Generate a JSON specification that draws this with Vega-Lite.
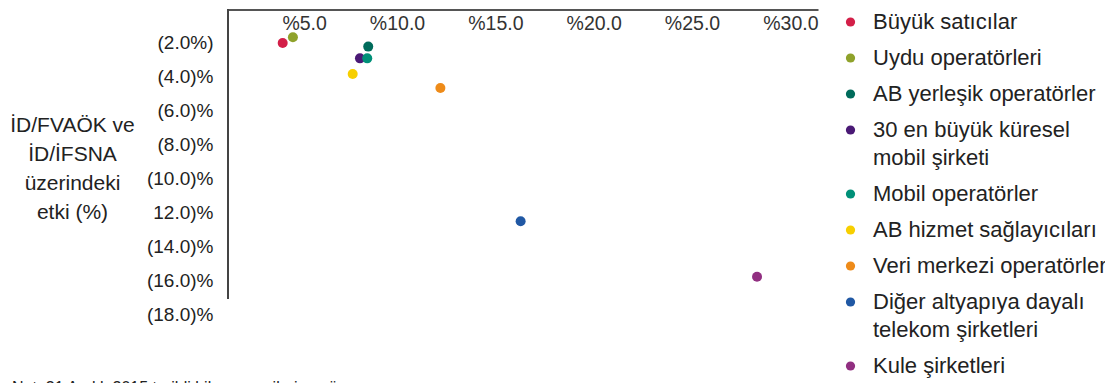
{
  "$schema": "https://vega.github.io/schema/vega-lite/v6.json",
  "width": 590,
  "height": 306.5,
  "autosize": "none",
  "padding": {"left": 228, "top": 9.5, "right": 287, "bottom": 67},
  "background": "white",
  "config": {"view": {"stroke": null}, "font": "Liberation Sans", "axis": {"labelOverlap": false}},
  "title": {
    "text": "Not: 31 Aralık 2015 tarihli bilanço verilerine göre",
    "orient": "bottom", "anchor": "start", "frame": "group",
    "dx": -216, "offset": 2.5, "fontSize": 16, "fontWeight": "normal",
    "color": "#222", "baseline": "top"
  },
  "data": {
    "values": [
      {"grup": "Büyük satıcılar", "x": 2.78, "y": -1.97},
      {"grup": "Uydu operatörleri", "x": 3.3, "y": -1.63},
      {"grup": "30 en büyük küresel mobil şirketi", "x": 6.71, "y": -2.87},
      {"grup": "Mobil operatörler", "x": 7.08, "y": -2.87},
      {"grup": "AB yerleşik operatörler", "x": 7.13, "y": -2.18},
      {"grup": "AB hizmet sağlayıcıları", "x": 6.34, "y": -3.79},
      {"grup": "Veri merkezi operatörleri", "x": 10.8, "y": -4.61},
      {"grup": "Diğer altyapıya dayalı telekom şirketleri", "x": 14.88, "y": -12.44},
      {"grup": "Kule şirketleri", "x": 26.9, "y": -15.69}
    ]
  },
  "layer": [
    {
      "mark": {"type": "circle", "size": 100, "opacity": 1},
      "encoding": {
        "x": {
          "field": "x", "type": "quantitative",
          "scale": {"domain": [0, 30], "nice": false, "zero": false},
          "axis": {
            "orient": "top", "values": [5, 10, 15, 20, 25, 30], "tickCount": 10,
            "labelExpr": "'%' + format(datum.value, '.1f')",
            "ticks": false, "tickSize": 0, "grid": false,
            "domainColor": "#555", "domainWidth": 2,
            "labelAlign": "right", "labelBaseline": "alphabetic",
            "labelPadding": -19.5, "labelFontSize": 19.5, "labelColor": "#333",
            "labelFlush": false, "labelOverlap": false, "title": null
          }
        },
        "y": {
          "field": "y", "type": "quantitative",
          "scale": {"domain": [-18, 0], "nice": false, "zero": false},
          "axis": {
            "orient": "left", "values": [-2, -4, -6, -8, -10, -12, -14, -16, -18], "tickCount": 12,
            "labelExpr": "datum.value == -2 ? '(2.0%)' : datum.value == -12 ? '12.0)%' : '(' + format(-datum.value, '.1f') + ')%'",
            "domain": false, "ticks": false, "grid": false,
            "labelPadding": 15, "labelFontSize": 19, "labelColor": "#222",
            "labelBaseline": "middle", "labelOffset": -1.5,
            "labelFlush": false, "labelOverlap": false,
            "title": ["İD/FVAÖK ve", "İD/İFSNA", "üzerindeki", "etki (%)"],
            "titleAngle": 0, "titleAlign": "center", "titleBaseline": "alphabetic",
            "titleX": -156, "titleY": 122, "titleFontSize": 21,
            "titleFontWeight": "normal", "titleLineHeight": 29, "titleColor": "#222"
          }
        },
        "color": {
          "field": "grup", "type": "nominal",
          "scale": {
            "domain": ["Büyük satıcılar", "Uydu operatörleri", "AB yerleşik operatörler", "30 en büyük küresel mobil şirketi", "Mobil operatörler", "AB hizmet sağlayıcıları", "Veri merkezi operatörleri", "Diğer altyapıya dayalı telekom şirketleri", "Kule şirketleri"],
            "range": ["#D31F48", "#8FA22B", "#006B5B", "#4A1975", "#009078", "#F7CF00", "#EE8B19", "#2058A4", "#912F81"]
          },
          "legend": {
            "orient": "none", "legendX": 611.5, "legendY": 1.5,
            "title": null, "padding": 0,
            "labelFontSize": 22, "labelColor": "#222", "labelLimit": 400,
            "labelOffset": 11.5, "rowPadding": 14,
            "symbolType": "circle", "symbolSize": 85, "symbolStrokeWidth": 0, "symbolOpacity": 1,
            "labelExpr": "datum.label == '30 en büyük küresel mobil şirketi' ? ['30 en büyük küresel', 'mobil şirketi'] : datum.label == 'Diğer altyapıya dayalı telekom şirketleri' ? ['Diğer altyapıya dayalı', 'telekom şirketleri'] : datum.label",
            "encode": {"labels": {"update": {"lineHeight": {"value": 28}}}}
          }
        }
      }
    },
    {
      "mark": {"type": "rule", "color": "#444", "strokeWidth": 1.5},
      "encoding": {
        "x": {"datum": 0, "type": "quantitative"},
        "y": {"datum": 0, "type": "quantitative"},
        "y2": {"datum": -17}
      }
    }
  ]
}
